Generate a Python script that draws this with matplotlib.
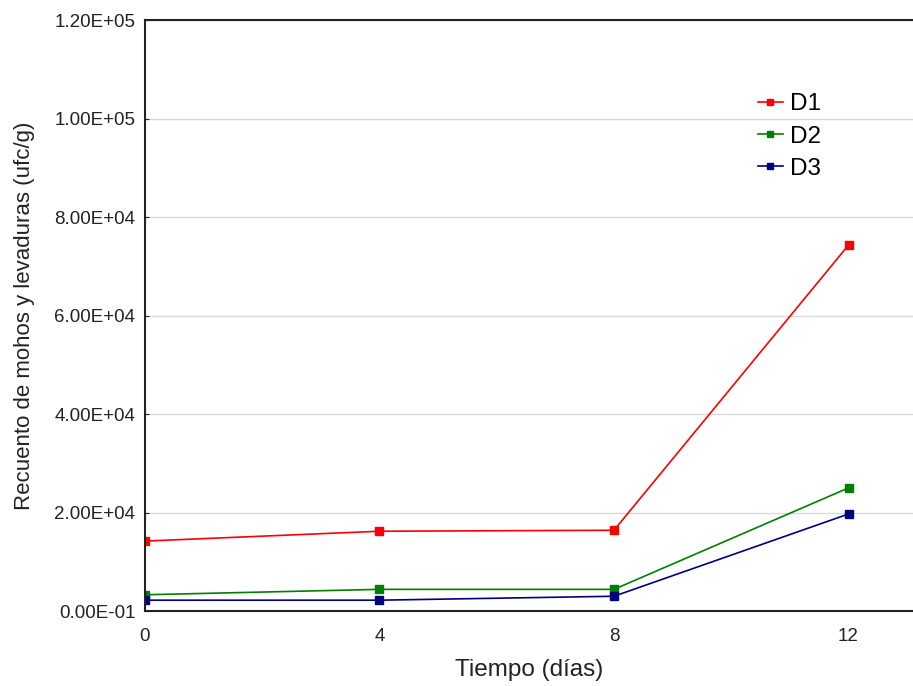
import numpy as np
import matplotlib.pyplot as plt
from matplotlib.ticker import FuncFormatter

plt.rcParams['font.family'] = ['Liberation Sans', 'DejaVu Sans']

dias = [0, 4, 8, 12]
d1 = [1.42e4, 1.62e4, 1.64e4, 7.43e4]
d2 = [3.3e3, 4.4e3, 4.4e3, 2.50e4]
d3 = [2.2e3, 2.2e3, 3.0e3, 1.97e4]
series = [("D1", d1, "#ff0000"), ("D2", d2, "#008000"), ("D3", d3, "#000080")]

fig = plt.figure(figsize=(9.13, 6.86), dpi=100)
ax = fig.add_axes([0.1588, 0.1093, 0.8412, 0.8615])

for name, vals, col in series:
    ax.plot(dias, vals, color=col, lw=1.2, marker='s', ms=6, label=name)

ax.set_xlim(0, 13.1)
ax.set_ylim(0, 1.2e5)
ax.set_xticks(dias)
ax.set_yticks(np.arange(0, 1.21e5, 2e4))

def fmt(v, pos):
    if v == 0:
        return "0.00E-01"
    return "%.2E" % v
ax.yaxis.set_major_formatter(FuncFormatter(fmt))

ax.grid(axis='y', color='#d9d9d9', lw=1)
ax.set_axisbelow(True)
ax.spines['right'].set_visible(False)
for s in ['left', 'bottom', 'top']:
    ax.spines[s].set_color('#222222')
    ax.spines[s].set_linewidth(1.5)
ax.tick_params(axis='y', direction='in', length=3, labelsize=13.5, colors='#222222', pad=7)
ax.tick_params(axis='x', length=0, labelsize=13.5, colors='#222222', pad=12)

ax.set_xlabel("Tiempo (días)", fontsize=17.5, color='#222222', labelpad=10)
ax.set_ylabel("Recuento de mohos y levaduras (ufc/g)", fontsize=16, color='#222222', labelpad=14)

ax.legend(loc='upper left', bbox_to_anchor=(0.77, 0.913), frameon=False, fontsize=17.5,
          handlelength=1.0, handletextpad=0.3, labelspacing=0.42, markerscale=0.8)

fig.savefig("out.png", dpi=100)
